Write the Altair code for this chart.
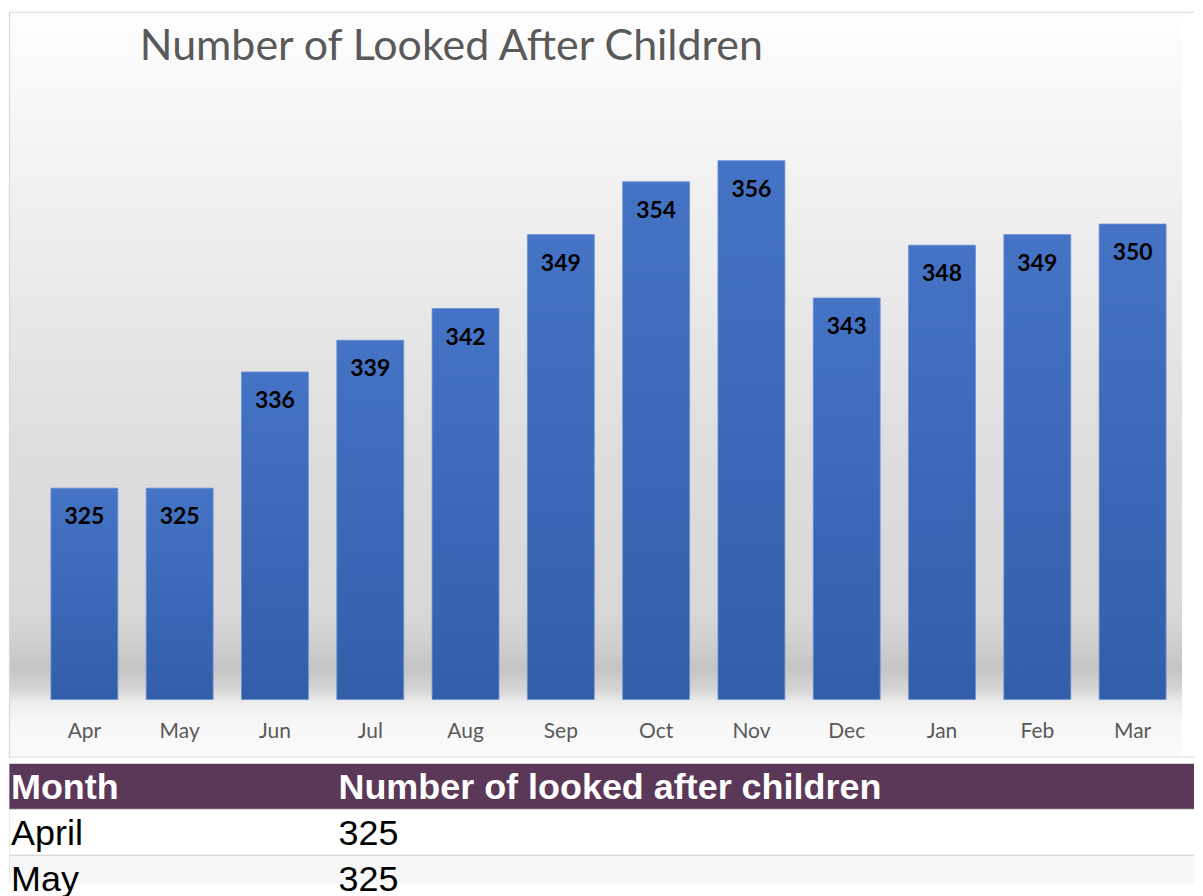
import altair as alt
import pandas as pd

# ---- data ----
chart_title = "Number of Looked After Children"
months = ["Apr", "May", "Jun", "Jul", "Aug", "Sep", "Oct", "Nov", "Dec", "Jan", "Feb", "Mar"]
values = [325, 325, 336, 339, 342, 349, 354, 356, 343, 348, 349, 350]

table_header = ["Month", "Number of looked after children"]
table_months = ["April", "May"]
table_values = [325, 325]

df = pd.DataFrame({"Month": months, "Value": values})

W = 1187
H = 747
y_scale = alt.Scale(domain=[299.5, 370.1], nice=False, zero=False)
x_scale = alt.Scale(domain=months, range=[42, 1159], paddingInner=0.298, paddingOuter=0)

bg_grad = alt.LinearGradient(
    gradient="linear", x1=0, x2=0, y1=0, y2=1,
    stops=[
        alt.GradientStop(offset=0.0, color="#fefefe"),
        alt.GradientStop(offset=0.12, color="#f7f7f7"),
        alt.GradientStop(offset=0.32, color="#ececec"),
        alt.GradientStop(offset=0.6, color="#dddddd"),
        alt.GradientStop(offset=0.8, color="#d8d8d8"),
        alt.GradientStop(offset=0.845, color="#d0d0d0"),
        alt.GradientStop(offset=0.88, color="#c4c4c4"),
        alt.GradientStop(offset=0.91, color="#d6d6d6"),
        alt.GradientStop(offset=0.925, color="#ececec"),
        alt.GradientStop(offset=0.95, color="#f6f6f6"),
        alt.GradientStop(offset=1.0, color="#fbfbfb"),
    ],
)
bar_grad = alt.LinearGradient(
    gradient="linear", x1=0, x2=0, y1=0, y2=1,
    stops=[
        alt.GradientStop(offset=0.0, color="#4573c5"),
        alt.GradientStop(offset=1.0, color="#325ea9"),
    ],
)

base = alt.Chart(df)
one = pd.DataFrame({"k": [0]})

background = alt.Chart(one).mark_rect(color=bg_grad).encode(
    x=alt.value(0), x2=alt.value(1175), y=alt.value(0), y2=alt.value(H)
)

frame_top = alt.Chart(one).mark_rule(color="#d9d9d9", strokeWidth=1.2).encode(
    x=alt.value(0), x2=alt.value(W), y=alt.value(0.5)
)
frame_bottom = alt.Chart(one).mark_rule(color="#d9d9d9", strokeWidth=1.2).encode(
    x=alt.value(0), x2=alt.value(W), y=alt.value(H - 0.5)
)
frame_left = alt.Chart(one).mark_rule(color="#d9d9d9", strokeWidth=1.2).encode(
    x=alt.value(0.5), y=alt.value(0), y2=alt.value(H)
)

bars = base.mark_bar(color=bar_grad, stroke="#6a8fd4", strokeWidth=0.8).encode(
    x=alt.X("Month:N", scale=x_scale, axis=None, sort=months),
    y=alt.Y("Value:Q", scale=y_scale, axis=None),
    y2=alt.datum(305),
)

value_labels = base.mark_text(
    font="Lato", fontSize=23, fontWeight="bold", color="#000000", baseline="middle", dy=29
).encode(
    x=alt.X("Month:N", scale=x_scale, sort=months),
    y=alt.Y("Value:Q", scale=y_scale),
    text=alt.Text("Value:Q"),
)

month_labels = base.mark_text(
    font="Lato", fontSize=21, color="#595959", baseline="middle"
).encode(
    x=alt.X("Month:N", scale=x_scale, sort=months),
    y=alt.value(721),
    text="Month:N",
)

title = alt.Chart(pd.DataFrame({"t": [chart_title]})).mark_text(
    font="Lato", fontSize=43, color="#595959", align="left", baseline="middle"
).encode(x=alt.value(131), y=alt.value(35), text="t:N")

top = alt.layer(
    background, frame_top, frame_bottom, frame_left, bars, value_labels, month_labels, title
).properties(
    width=W, height=H, view=alt.ViewBackground(stroke=None, fill="#ffffff")
)

# ---- table ----
TH = 120
rows = pd.DataFrame({
    "row": [0, 1, 2],
    "c1": [table_header[0]] + table_months,
    "c2": [table_header[1]] + [str(v) for v in table_values],
    "fill": ["#5b3758", "#ffffff", "#f7f7f7"],
    "kind": ["header", "body", "body"],
})
rows["row_end"] = rows["row"] + 1
rows["mid"] = rows["row"] + 0.5

ty = alt.Scale(domain=[0, TH / 46], range=[0, TH], nice=False, zero=False)
tbase = alt.Chart(rows)

trect = tbase.mark_rect(clip=True, stroke="#d4d4d4", strokeWidth=1).encode(
    x=alt.value(0), x2=alt.value(W + 5),
    y=alt.Y("row:Q", scale=ty, axis=None), y2="row_end:Q",
    fill=alt.Fill("fill:N", scale=None),
)

txt = dict(font="Liberation Sans", fontSize=36, align="left", baseline="middle", dy=2)
hdr1 = tbase.transform_filter("datum.kind == 'header'").mark_text(
    fontWeight="bold", color="white", **txt
).encode(x=alt.value(2), y=alt.Y("mid:Q", scale=ty), text="c1:N")
hdr2 = tbase.transform_filter("datum.kind == 'header'").mark_text(
    fontWeight="bold", color="white", **txt
).encode(x=alt.value(330), y=alt.Y("mid:Q", scale=ty), text="c2:N")
body1 = tbase.transform_filter("datum.kind == 'body'").mark_text(
    color="black", **txt
).encode(x=alt.value(2), y=alt.Y("mid:Q", scale=ty), text="c1:N")
body2 = tbase.transform_filter("datum.kind == 'body'").mark_text(
    color="black", **txt
).encode(x=alt.value(330), y=alt.Y("mid:Q", scale=ty), text="c2:N")

bottom = alt.layer(trect, hdr1, hdr2, body1, body2).properties(
    width=W, height=TH, view=alt.ViewBackground(stroke=None)
)

chart = alt.vconcat(top, bottom, spacing=5).properties(
    padding={"left": 0, "top": 2, "right": 0, "bottom": 0}
).configure(background="#ffffff")

chart.save("out.html", embed_options={"renderer": "svg", "actions": False})
